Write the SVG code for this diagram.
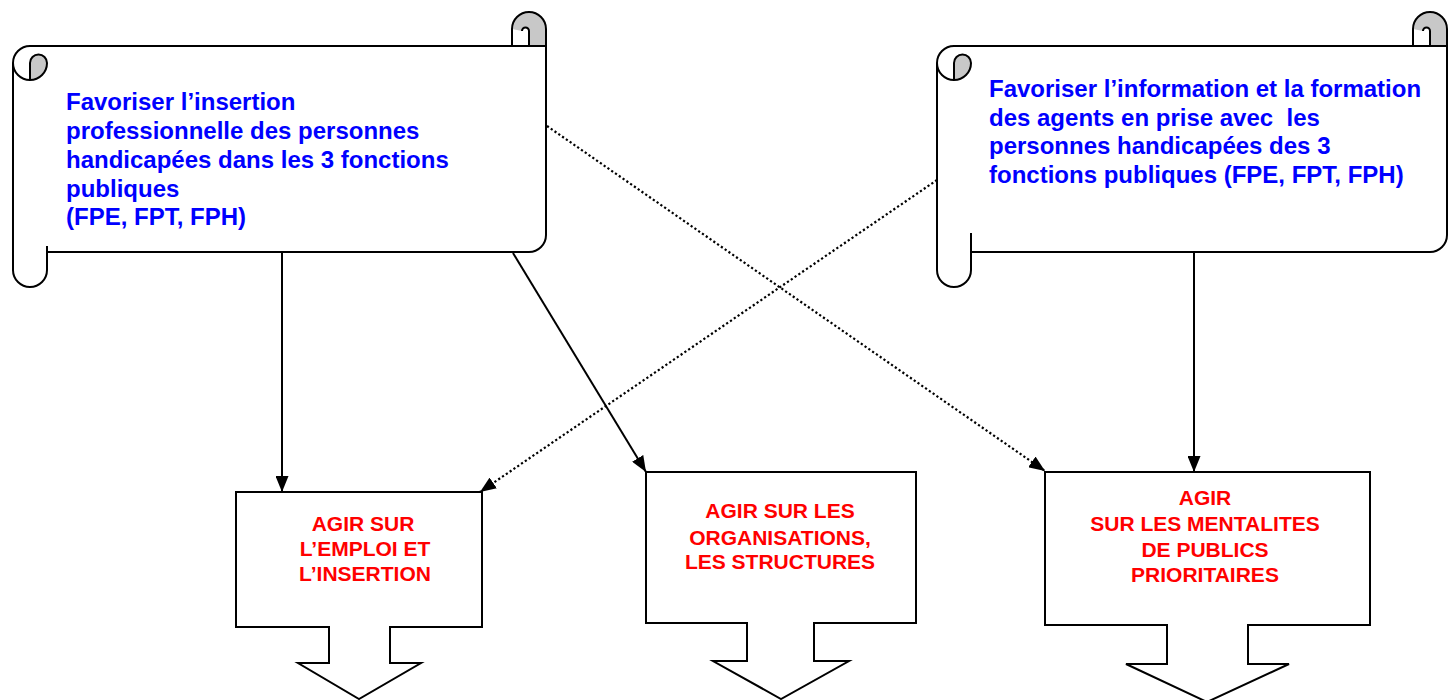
<svg xmlns="http://www.w3.org/2000/svg" width="1448" height="700" viewBox="0 0 1448 700">
<style>
.bg{fill:#fff;stroke:none}
.ol{fill:none;stroke:#000;stroke-width:2;stroke-linejoin:round}
.gr{fill:#c8c8c8;stroke:none}
.box{fill:#fff;stroke:#000;stroke-width:2;stroke-linejoin:miter}
.blue{font-family:"Liberation Sans",Arial,sans-serif;font-weight:bold;font-size:24px;fill:#0000ff}
.red{font-family:"Liberation Sans",Arial,sans-serif;font-weight:bold;font-size:21px;fill:#ff0000;text-anchor:middle}
.solid{fill:none;stroke:#000;stroke-width:2}
.dot{fill:none;stroke:#000;stroke-width:2.2;stroke-dasharray:2.2 2.4}
</style>
<defs>
<marker id="ah" markerUnits="userSpaceOnUse" markerWidth="16" markerHeight="13" refX="16" refY="6.5" orient="auto">
<path d="M0,0 L16,6.5 L0,13 Z" fill="#000"/>
</marker>
</defs>
<rect width="1448" height="700" fill="#fff"/>

<g id="scroll1">
<path class="bg" d="M13 63 A17 17 0 0 1 30 46 H512 V29 A17 17 0 0 1 546 29 V235 A17 17 0 0 1 529 252 H47 V270 A17 17 0 0 1 13 270 Z"/>
<path class="gr" d="M512 29 A17 17 0 0 1 546 29 V46 H529 V31 A3.5 3.5 0 0 0 522 31 Z"/>
<path class="gr" d="M30 80 V63 A8.5 8.5 0 0 1 47 63 A17 17 0 0 1 30 80 Z"/>
<path class="ol" d="M13 63 A17 17 0 0 1 30 46 H512 V29 A17 17 0 0 1 546 29 V235 A17 17 0 0 1 529 252 H47 V270 A17 17 0 0 1 13 270 Z"/>
<path class="ol" d="M512 46 H546 M529 46 V31 A3.5 3.5 0 0 0 522 31 M13 63 A17 17 0 0 0 30 80 V63 A8.5 8.5 0 0 1 47 63 A17 17 0 0 1 30 80 M47 246 V252"/>
<text class="blue" x="66" y="110">Favoriser l’insertion</text>
<text class="blue" x="66" y="139">professionnelle des personnes</text>
<text class="blue" x="66" y="168">handicapées dans les 3 fonctions</text>
<text class="blue" x="66" y="197">publiques</text>
<text class="blue" x="66" y="225">(FPE, FPT, FPH)</text>
</g>

<g id="scroll2">
<path class="bg" d="M937 63 A17 17 0 0 1 954 46 H1413 V29 A17 17 0 0 1 1447 29 V235 A17 17 0 0 1 1430 252 H971 V270 A17 17 0 0 1 937 270 Z"/>
<path class="gr" d="M1413 29 A17 17 0 0 1 1447 29 V46 H1430 V31 A3.5 3.5 0 0 0 1423 31 Z"/>
<path class="gr" d="M954 80 V63 A8.5 8.5 0 0 1 971 63 A17 17 0 0 1 954 80 Z"/>
<path class="ol" d="M937 63 A17 17 0 0 1 954 46 H1413 V29 A17 17 0 0 1 1447 29 V235 A17 17 0 0 1 1430 252 H971 V270 A17 17 0 0 1 937 270 Z"/>
<path class="ol" d="M1413 46 H1447 M1430 46 V31 A3.5 3.5 0 0 0 1423 31 M937 63 A17 17 0 0 0 954 80 V63 A8.5 8.5 0 0 1 971 63 A17 17 0 0 1 954 80 M971 233 V252"/>
<text class="blue" x="989" y="97">Favoriser l’information et la formation</text>
<text class="blue" x="989" y="126" xml:space="preserve">des agents en prise avec  les</text>
<text class="blue" x="989" y="154">personnes handicapées des 3</text>
<text class="blue" x="989" y="183">fonctions publiques (FPE, FPT, FPH)</text>
</g>

<g id="box1">
<path class="box" d="M236 492 H482 V627 H390 V663 H421 L359 699 L298 663 H329 V627 H236 Z"/>
<text class="red" x="363" y="531">AGIR SUR</text>
<text class="red" x="365" y="556">L’EMPLOI ET</text>
<text class="red" x="365" y="581">L’INSERTION</text>
</g>

<g id="box2">
<path class="box" d="M646 472 H916 V623 H814 V661 H849 L781 699 L713 661 H747 V623 H646 Z"/>
<text class="red" x="780" y="518">AGIR SUR LES</text>
<text class="red" x="780" y="545">ORGANISATIONS,</text>
<text class="red" x="780" y="569">LES STRUCTURES</text>
</g>

<g id="box3">
<path class="box" d="M1045 472 H1370 V625 H1248 V664 H1289 L1207 702 L1126 664 H1167 V625 H1045 Z"/>
<text class="red" x="1205" y="505">AGIR</text>
<text class="red" x="1205" y="531">SUR LES MENTALITES</text>
<text class="red" x="1205" y="557">DE PUBLICS</text>
<text class="red" x="1205" y="582">PRIORITAIRES</text>
</g>

<g id="connectors">
<line class="solid" x1="282" y1="253" x2="282" y2="492" marker-end="url(#ah)"/>
<line class="solid" x1="513" y1="253" x2="646" y2="472" marker-end="url(#ah)"/>
<line class="solid" x1="1194" y1="253" x2="1194" y2="472" marker-end="url(#ah)"/>
<line class="dot" x1="547" y1="126" x2="1045" y2="471" marker-end="url(#ah)"/>
<line class="dot" x1="937" y1="180" x2="480" y2="492" marker-end="url(#ah)"/>
</g>
</svg>
